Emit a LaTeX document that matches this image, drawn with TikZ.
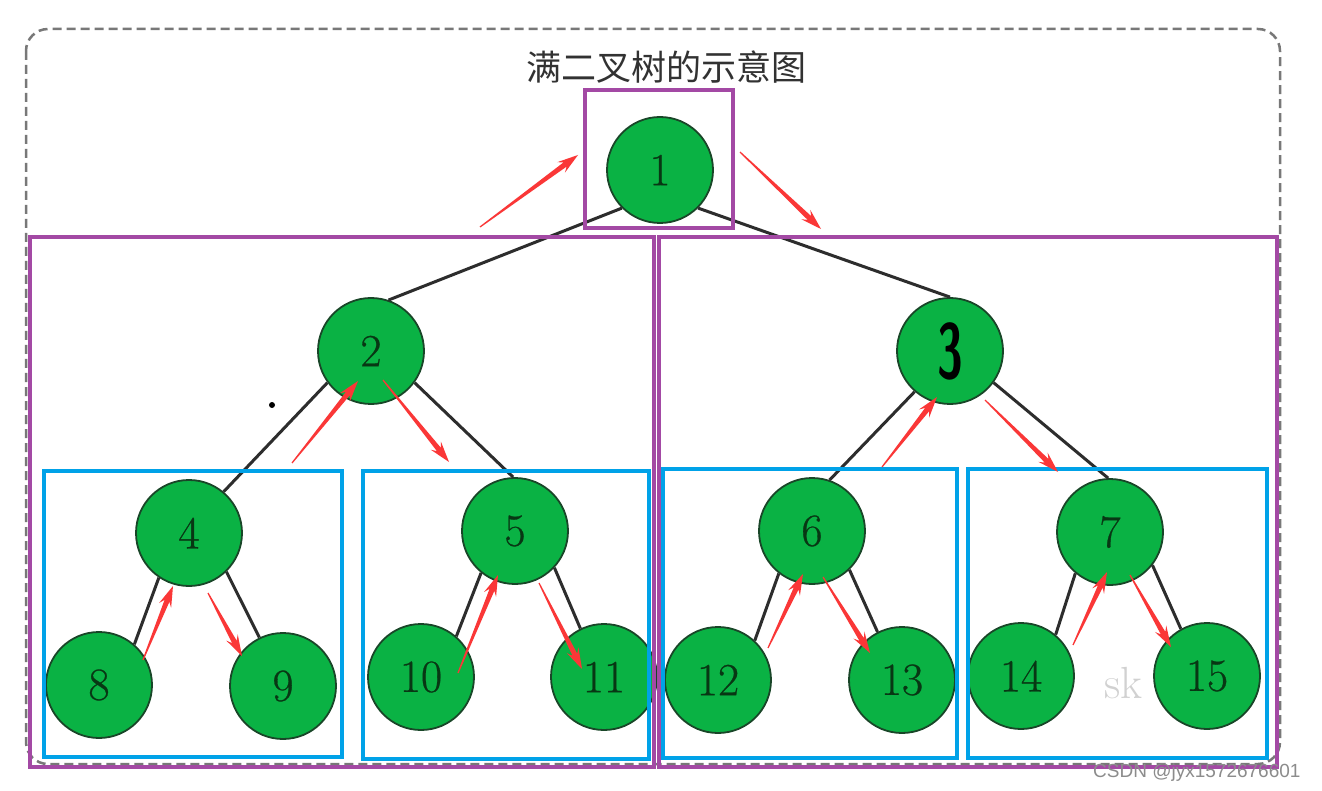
\documentclass[tikz,border=0pt]{standalone}
\usepackage{fontspec}
\newfontfamily\cjk{Noto Sans CJK SC}
\newfontfamily\arialfont{Liberation Sans}
\newfontfamily\digitfont[FakeBold=0.6]{Latin Modern Roman}
\usetikzlibrary{calc}
\definecolor{tgreen}{RGB}{10,178,68}
\definecolor{tborder}{RGB}{25,70,40}
\definecolor{tdigit}{RGB}{8,55,20}
\definecolor{tpurple}{RGB}{163,73,164}
\definecolor{tblue}{RGB}{0,162,232}
\definecolor{tred}{RGB}{250,55,55}
\definecolor{tedge}{RGB}{45,45,45}
\definecolor{tdash}{RGB}{120,120,120}
\definecolor{ttitle}{RGB}{50,50,50}
\newcommand{\redarrow}[2]{%
  \fill[tred] ($(#1)!0.6pt!90:(#2)$)
    -- ($(#2)!16pt!(#1)!2.6pt!90:(#2)$)
    -- ($(#2)!21pt!(#1)!6.5pt!90:(#2)$)
    -- (#2)
    -- ($(#2)!21pt!(#1)!6.5pt!-90:(#2)$)
    -- ($(#2)!16pt!(#1)!2.6pt!-90:(#2)$)
    -- ($(#1)!0.6pt!-90:(#2)$) -- cycle;}
\tikzset{
  tn/.style={circle, draw=tborder, line width=1.8pt, fill=tgreen, minimum size=106pt,
    inner sep=0pt, text=tdigit, font=\digitfont\fontsize{46}{48}\selectfont},
  edge/.style={draw=tedge, line width=3pt},
  pbox/.style={draw=tpurple, line width=4.5pt},
  bbox/.style={draw=tblue, line width=4pt},
}
\begin{document}
\begin{tikzpicture}[x=1pt,y=-1pt]
\useasboundingbox (0,0) rectangle (1322,791);
\fill[white] (0,0) rectangle (1322,791);
% outer dashed frame
\draw[tdash, line width=2.5pt, dash pattern=on 9pt off 5pt, rounded corners=22pt] (26,29) rectangle (1280,764);
\node[font=\cjk\fontsize{35}{37}\selectfont, text=ttitle] (title) at (666,67) {满二叉树的示意图};
% watermark
\node[anchor=base west, inner sep=0pt, text=black!18, font=\fontsize{45}{45}\selectfont] (wm) at (1104,698) {sk};
% nodes
\node[tn] (n1) at (660,170) {1};
\node[tn] (n2) at (371,351) {2};
\node[tn] (n3) at (950,351) {\raisebox{-6pt}{\color{black}\sffamily\bfseries\fontsize{78}{78}\selectfont\scalebox{0.6}[1]{3}}};
\node[tn] (n4) at (189,533) {4};
\node[tn] (n5) at (515,531) {5};
\node[tn] (n6) at (812,531) {6};
\node[tn] (n7) at (1110,532) {7};
\node[tn] (n8) at (99,685) {8};
\node[tn] (n9) at (283,686) {9};
\node[tn] (n10) at (421,677) {10};
\node[tn] (n11) at (604,677) {11};
\node[tn] (n12) at (718,680) {12};
\node[tn] (n13) at (902,680) {13};
\node[tn] (n14) at (1021,676) {14};
\node[tn] (n15) at (1207,676) {15};
% edges
\draw[edge] (n1.-135) -- (n2.71);
\draw[edge] (n1.-45) -- (n3.90);
\draw[edge] (n2.-144) -- (n4.50);
\draw[edge] (n2.-36) -- (n5.92);
\draw[edge] (n3.-131) -- (n6.71);
\draw[edge] (n3.-36) -- (n7.92);
\draw[edge] (n4.-124) -- (n8.49);
\draw[edge] (n4.-46) -- (n9.116);
\draw[edge] (n5.-129) -- (n10.49);
\draw[edge] (n5.-43) -- (n11.116);
\draw[edge] (n6.-128) -- (n12.47);
\draw[edge] (n6.-46) -- (n13.117);
\draw[edge] (n7.-130) -- (n14.50);
\draw[edge] (n7.-38) -- (n15.119);
% purple boxes
\draw[pbox] (585,90) rectangle (733,228);
\draw[pbox] (30,237) rectangle (654,767);
\draw[pbox] (659,237) rectangle (1277,767);
% blue boxes
\draw[bbox] (44,471) rectangle (342,757);
\draw[bbox] (363,471) rectangle (649,759);
\draw[bbox] (663,469) rectangle (957,758);
\draw[bbox] (968,469) rectangle (1267,758);
% red arrows
\coordinate (a1t) at (480,227);  \coordinate (a1h) at (578,155);
\coordinate (a2t) at (740,152);  \coordinate (a2h) at (821,229);
\coordinate (a3t) at (292,463);  \coordinate (a3h) at (358,381);
\coordinate (a4t) at (383,380);  \coordinate (a4h) at (449,462);
\coordinate (a5t) at (882,467);  \coordinate (a5h) at (937,397);
\coordinate (a6t) at (985,400);  \coordinate (a6h) at (1058,472);
\coordinate (a7t) at (143,660);  \coordinate (a7h) at (173,586);
\coordinate (a8t) at (208,593);  \coordinate (a8h) at (242,656);
\coordinate (a9t) at (458,673);  \coordinate (a9h) at (498,575);
\coordinate (a10t) at (539,583); \coordinate (a10h) at (582,669);
\coordinate (a11t) at (768,648); \coordinate (a11h) at (803,574);
\coordinate (a12t) at (823,577); \coordinate (a12h) at (870,653);
\coordinate (a13t) at (1073,645); \coordinate (a13h) at (1107,572);
\coordinate (a14t) at (1130,575); \coordinate (a14h) at (1171,647);
\redarrow{a1t}{a1h}
\redarrow{a2t}{a2h}
\redarrow{a3t}{a3h}
\redarrow{a4t}{a4h}
\redarrow{a5t}{a5h}
\redarrow{a6t}{a6h}
\redarrow{a7t}{a7h}
\redarrow{a8t}{a8h}
\redarrow{a9t}{a9h}
\redarrow{a10t}{a10h}
\redarrow{a11t}{a11h}
\redarrow{a12t}{a12h}
\redarrow{a13t}{a13h}
\redarrow{a14t}{a14h}
% stray dot
\fill[black] (272,405) circle (3pt);
% credit
\node[anchor=base west, inner sep=0pt, text=black!45, font=\arialfont\fontsize{19}{19}\selectfont] (credit) at (1093,777) {CSDN @jyx1572676601};
\end{tikzpicture}
\end{document}
